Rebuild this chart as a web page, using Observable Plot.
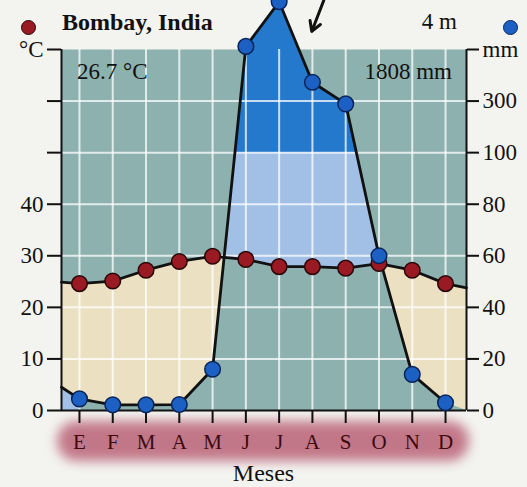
<!DOCTYPE html>
<html>
<head>
<meta charset="utf-8">
<script src="https://cdn.jsdelivr.net/npm/d3@7"></script>
<script src="https://cdn.jsdelivr.net/npm/@observablehq/plot@0.6"></script>
<style>
  html, body { margin: 0; padding: 0; background: #f3f3f0; }
  #wrap { position: relative; width: 527px; height: 487px; overflow: hidden; font-family: "Liberation Serif", "DejaVu Serif", serif; color: #111; }
  #band { position: absolute; left: 57px; top: 421px; width: 412px; height: 40px; background: #bd6a7d; border-radius: 20px; filter: blur(6px); opacity: 0.9; }
  #chart { position: absolute; left: 0; top: 0; }
  .t { position: absolute; white-space: nowrap; line-height: 24px; }
  .dot { position: absolute; width: 15px; height: 15px; border-radius: 50%; box-sizing: border-box; }
</style>
</head>
<body>
<div id="wrap">
  <div id="band"></div>
  <div id="chart"></div>
</div>
<script>
// ---------- data ----------
const months = ["E", "F", "M", "A", "M", "J", "J", "A", "S", "O", "N", "D"];
const temperature = [24.6, 25.1, 27.2, 28.9, 29.9, 29.3, 27.9, 27.9, 27.6, 28.5, 27.2, 24.6]; // °C
const precipitation = [4.5, 2.2, 2.2, 2.3, 16, 512, 685, 373, 289, 60, 14, 3];               // mm
const edgeTemperature = [24.9, 23.8];   // where the temperature curve meets the left / right frame
const edgePrecipitation = [9, 0];       // where the precipitation curve meets the left / right frame
const xEdges = [-0.54, 11.63];          // frame edges in month units
const tempTicks = [0, 10, 20, 30, 40, 50, 60, 70];
const tempTickLabels = ["0", "10", "20", "30", "40", "", "", "°C"];
const precipTickLabels = ["0", "20", "40", "60", "80", "100", "300", "mm"];
const station = "Bombay, India";
const elevation = "4 m";
const meanTemp = "26.7 °C";
const annualPrecip = "1808 mm";
const xLabel = "Meses";
const arrowNote = [{x1: 7.34, y1: 79.5, x2: 6.98, y2: 73.5}];

// Walter–Lieth scaling: 10 °C = 20 mm up to 100 mm, above that 10 °C = 200 mm
const toEq = p => p <= 100 ? p / 2 : 50 + (p - 100) / 20;

const monthIdx = d3.range(months.length);
const tempPts = [{x: xEdges[0], y: edgeTemperature[0]},
  ...monthIdx.map(i => ({x: i, y: temperature[i]})),
  {x: xEdges[1], y: edgeTemperature[1]}];
const precPts = monthIdx.map(i => ({x: i, y: toEq(precipitation[i])}));
const precLine = [{x: xEdges[0], y: toEq(edgePrecipitation[0])}, ...precPts];

// combined series with crossing points (p vs t and p vs 100 mm line)
const xs = [xEdges[0], ...monthIdx, xEdges[1]];
const ps = [toEq(edgePrecipitation[0]), ...precipitation.map(toEq), toEq(edgePrecipitation[1])];
const ts = [edgeTemperature[0], ...temperature, edgeTemperature[1]];
const pts = [];
for (let i = 0; i < xs.length; i++) {
  pts.push({x: xs[i], p: ps[i], t: ts[i]});
  if (i === xs.length - 1) break;
  const cuts = [];
  const a = ps[i] - ts[i], b = ps[i + 1] - ts[i + 1];
  if (a * b < 0) cuts.push(a / (a - b));
  const c = ps[i] - 50, e = ps[i + 1] - 50;
  if (c * e < 0) cuts.push(c / (c - e));
  cuts.sort((u, v) => u - v).forEach(u => pts.push({
    x: xs[i] + u * (xs[i + 1] - xs[i]),
    p: ps[i] + u * (ps[i + 1] - ps[i]),
    t: ts[i] + u * (ts[i + 1] - ts[i])
  }));
}

const tempLabelMap = new Map(tempTicks.map((d, i) => [d, tempTickLabels[i]]));
const precLabelMap = new Map(tempTicks.map((d, i) => [d, precipTickLabels[i]]));

const teal = "#8db1ae", beige = "#ebe0c2", lightBlue = "#a2c0e6", darkBlue = "#2479cc";

const chart = Plot.plot({
  width: 527,
  height: 487,
  marginLeft: 61,
  marginRight: 61,
  marginTop: 49,
  marginBottom: 77,
  style: {background: "transparent", fontFamily: "Liberation Serif, serif", overflow: "visible"},
  x: {domain: xEdges},
  y: {domain: [0, 70]},
  marks: [
    Plot.frame({fill: teal, stroke: null}),
    Plot.areaY(pts.filter(d => d.x <= 0), {x: "x", y1: 0, y2: "p", fill: lightBlue}),
    Plot.areaY(pts, {x: "x", y1: "p", y2: d => Math.max(d.p, d.t), fill: beige}),
    Plot.areaY(pts, {x: "x", y1: "t", y2: d => Math.max(d.t, Math.min(d.p, 50)), fill: lightBlue}),
    Plot.areaY(pts, {x: "x", y1: 50, y2: d => Math.max(50, d.p), fill: darkBlue}),
    Plot.gridX({ticks: monthIdx, stroke: "white", strokeOpacity: 0.75, strokeWidth: 2}),
    Plot.gridY({ticks: tempTicks.slice(1, -1), stroke: "white", strokeOpacity: 0.75, strokeWidth: 2}),
    Plot.ruleX(xEdges, {stroke: "#111", strokeWidth: 2}),
    Plot.ruleY([0], {stroke: "#111", strokeWidth: 2}),
    Plot.axisY({anchor: "left", ticks: tempTicks, tickFormat: d => tempLabelMap.get(d), tickSize: 14, tickPadding: 4,
      fontSize: 23, stroke: "#111", strokeWidth: 2, fill: "#111", label: null}),
    Plot.axisY({anchor: "right", ticks: tempTicks, tickFormat: d => precLabelMap.get(d), tickSize: 12, tickPadding: 4,
      fontSize: 23, stroke: "#111", strokeWidth: 2, fill: "#111", label: null}),
    Plot.axisX({ticks: monthIdx, tickFormat: i => months[i], tickSize: 13, tickPadding: 11,
      fontSize: 21, stroke: "#111", strokeWidth: 2, fill: "#3d0910", label: null}),
    Plot.line(tempPts, {x: "x", y: "y", stroke: "#111", strokeWidth: 2.8}),
    Plot.line(precLine, {x: "x", y: "y", stroke: "#111", strokeWidth: 2.8}),
    Plot.dot(tempPts.slice(1, -1), {x: "x", y: "y", r: 7.8, fill: "#9a1a24", stroke: "#2a0608", strokeWidth: 1.5}),
    Plot.dot(precPts, {x: "x", y: "y", r: 7.8, fill: "#1d60c4", stroke: "#0a2458", strokeWidth: 1.5}),
    Plot.arrow(arrowNote, {x1: "x1", y1: "y1", x2: "x2", y2: "y2", stroke: "#111", strokeWidth: 3, headLength: 14})
  ]
});
document.getElementById("chart").appendChild(chart);

// overlay texts
const wrap = document.getElementById("wrap");
function addText(txt, style) {
  const el = document.createElement("div");
  el.className = "t";
  el.textContent = txt;
  Object.assign(el.style, style);
  wrap.appendChild(el);
}
addText(station, {left: "62px", top: "10px", fontSize: "24px", fontWeight: "bold"});
addText(elevation, {right: "70px", top: "10px", fontSize: "23px"});
addText(meanTemp, {left: "77px", top: "60px", fontSize: "23px"});
addText(annualPrecip, {right: "75px", top: "60px", fontSize: "23px"});
addText(xLabel, {left: "0", width: "527px", textAlign: "center", top: "461px", fontSize: "24px"});
function addDot(cx, cy, fill, stroke) {
  const el = document.createElement("div");
  el.className = "dot";
  Object.assign(el.style, {left: (cx - 7.5) + "px", top: (cy - 7.5) + "px", background: fill, border: "1.5px solid " + stroke});
  wrap.appendChild(el);
}
addDot(28, 27, "#9a1a24", "#2a0608");
addDot(510, 27, "#1d60c4", "#0a2458");
</script>
</body>
</html>
